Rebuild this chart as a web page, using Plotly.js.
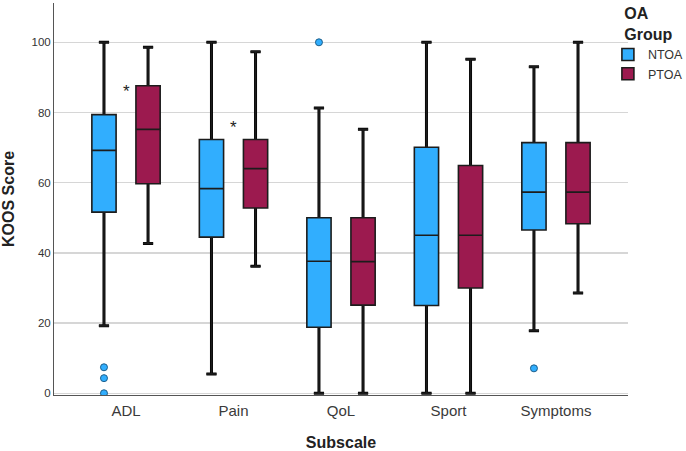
<!DOCTYPE html>
<html>
<head>
<meta charset="utf-8">
<script src="https://cdn.plot.ly/plotly-3.0.1.min.js"></script>
<style>html,body{margin:0;padding:0;background:#fff;}#chart{width:686px;height:451px;}</style>
</head>
<body>
<div id="chart"></div>
<script>
// Categories
const subscales = ['ADL', 'Pain', 'QoL', 'Sport', 'Symptoms'];

// NTOA box statistics
const ntoaLower  = [19.2, 5.5, 0, 0, 17.8];
const ntoaQ1     = [51.6, 44.5, 18.8, 25.0, 46.5];
const ntoaMedian = [69.2, 58.3, 37.6, 45.0, 57.3];
const ntoaQ3     = [79.4, 72.3, 50.0, 70.1, 71.4];
const ntoaUpper  = [100, 100, 81.3, 100, 93.0];
const ntoaOutliers = [[7.4, 4.3, 0], [], [100], [], [7.1]];

// PTOA box statistics
const ptoaLower  = [42.7, 36.2, 0, 0, 28.6];
const ptoaQ1     = [59.7, 52.8, 25.1, 30.0, 48.3];
const ptoaMedian = [75.2, 64.0, 37.5, 45.0, 57.3];
const ptoaQ3     = [87.6, 72.3, 50.0, 64.9, 71.4];
const ptoaUpper  = [98.6, 97.3, 75.2, 95.2, 100];

// Significance markers
const starCats = ['ADL', 'Pain'];
const starY = [87.1, 76.9];

const yTicks = [0, 20, 40, 60, 80, 100];

const blue = '#31aefe';
const crimson = '#9c1a4f';
const font = 'Liberation Sans, Arial, sans-serif';

function whiskerTrace(group, lower, med, upper) {
  return {
    type: 'box', x: subscales,
    q1: med, median: med, q3: med,
    lowerfence: lower, upperfence: upper,
    offsetgroup: group, showlegend: false, hoverinfo: 'skip',
    boxpoints: false, whiskerwidth: 0.42,
    line: {color: '#000', width: 3}, fillcolor: 'rgba(0,0,0,0)'
  };
}
function boxTrace(name, group, color, lower, q1, med, q3, upper, pts) {
  const t = {
    type: 'box', name: name, x: subscales,
    q1: q1, median: med, q3: q3,
    lowerfence: lower, upperfence: upper,
    offsetgroup: group, legendgroup: group,
    whiskerwidth: 0.42,
    line: {color: '#1c1c1c', width: 1.6}, fillcolor: color,
    marker: {color: color, size: 7, line: {color: '#1d5e8a', width: 1}}
  };
  if (pts) {
    t.y = pts;
    t.boxpoints = 'outliers';
    t.pointpos = 0;
    t.jitter = 0;
  } else {
    t.boxpoints = false;
  }
  return t;
}

const data = [
  whiskerTrace('N', ntoaLower, ntoaMedian, ntoaUpper),
  whiskerTrace('P', ptoaLower, ptoaMedian, ptoaUpper),
  boxTrace('NTOA', 'N', blue, ntoaLower, ntoaQ1, ntoaMedian, ntoaQ3, ntoaUpper, ntoaOutliers),
  boxTrace('PTOA', 'P', crimson, ptoaLower, ptoaQ1, ptoaMedian, ptoaQ3, ptoaUpper, null)
];

const annotations = starCats.map((c, i) => ({
  x: c, y: starY[i], xref: 'x', yref: 'y', text: '*', showarrow: false,
  font: {family: font, size: 17, color: '#222'}, yanchor: 'middle', yshift: -4
}));

const layout = {
  width: 686, height: 451,
  margin: {l: 54, r: 58, t: 3, b: 56, autoexpand: false},
  paper_bgcolor: '#fff', plot_bgcolor: '#fff',
  font: {family: font, color: '#333'},
  boxmode: 'group', boxgap: 0.18, boxgroupgap: 0.45,
  showlegend: true,
  legend: {
    x: 0.965, xanchor: 'left', y: 1.012, yanchor: 'top',
    bgcolor: 'rgba(0,0,0,0)',
    title: {text: '<b>OA<br>Group</b>', side: 'top center', font: {size: 16, color: '#222', family: font}},
    font: {size: 12.5, color: '#333', family: font},
    itemwidth: 30, tracegroupgap: 0, borderwidth: 0
  },
  xaxis: {
    type: 'category', range: [-0.67, 4.67],
    showline: true, linecolor: '#555', linewidth: 1,
    showgrid: false, ticks: '', ticklabelstandoff: 2,
    tickfont: {size: 15, color: '#3a3a3a'},
    title: {text: '<b>Subscale</b>', font: {size: 16, color: '#222'}, standoff: 18}
  },
  yaxis: {
    range: [-0.5, 111.2], tickvals: yTicks,
    showgrid: true, gridcolor: '#d6d6d6', gridwidth: 1.3,
    zeroline: false, showline: true, linecolor: '#555', linewidth: 1,
    ticks: '', tickfont: {size: 11.5, color: '#333'},
    title: {text: '<b>KOOS Score</b>', font: {size: 16, color: '#222'}, standoff: 12}
  },
  annotations: annotations
};

Plotly.newPlot('chart', data, layout, {displayModeBar: false, staticPlot: true});
</script>
</body>
</html>
